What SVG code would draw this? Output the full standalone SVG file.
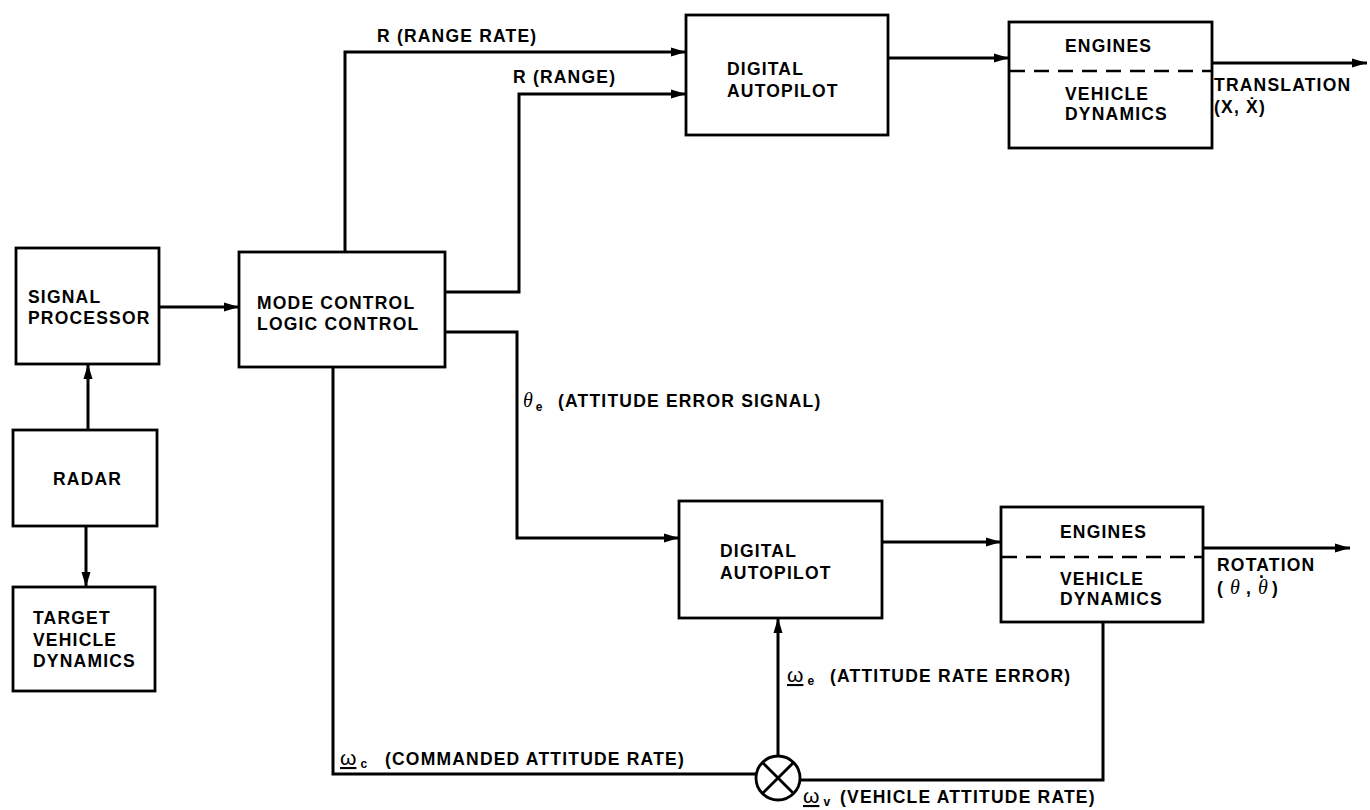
<svg xmlns="http://www.w3.org/2000/svg" width="1370" height="810" viewBox="0 0 1370 810">
<style>
.box{fill:#fff;stroke:#000;stroke-width:2.8}
.dash{stroke:#000;stroke-width:2.5;stroke-dasharray:15 9;fill:none}
.wire{fill:none;stroke:#000;stroke-width:3}
.t{font-family:"Liberation Sans",Arial,sans-serif;font-weight:bold;font-size:17.5px;letter-spacing:1.2px;fill:#000}
.g{font-family:"Liberation Serif","DejaVu Serif",serif;font-style:italic;font-weight:normal;font-size:20px;letter-spacing:0}
.w{font-family:"Liberation Sans",Arial,sans-serif;font-weight:normal;font-size:21px;letter-spacing:0;text-decoration:underline}
.s{font-size:12px;letter-spacing:0}
</style>
<defs>
<marker id="ah" markerUnits="userSpaceOnUse" markerWidth="16" markerHeight="10" refX="15" refY="5" orient="auto">
<path d="M0,0.5 L15,5 L0,9.5 z" fill="#000"/>
</marker>
</defs>

<g id="connectors">
<path class="wire" d="M159,307 H239" marker-end="url(#ah)"/>
<path class="wire" d="M88,430 V364" marker-end="url(#ah)"/>
<path class="wire" d="M86,526 V587" marker-end="url(#ah)"/>
<path class="wire" d="M345,252 V52 H686" marker-end="url(#ah)"/>
<path class="wire" d="M445,292 H519 V94 H686" marker-end="url(#ah)"/>
<path class="wire" d="M888,58 H1009" marker-end="url(#ah)"/>
<path class="wire" d="M1212,63 H1367" marker-end="url(#ah)"/>
<path class="wire" d="M445,332 H517 V538 H679" marker-end="url(#ah)"/>
<path class="wire" d="M882,542 H1001" marker-end="url(#ah)"/>
<path class="wire" d="M1203,548 H1350" marker-end="url(#ah)"/>
<path class="wire" d="M333,367 V774 H756"/>
<path class="wire" d="M1103,622 V780 H800"/>
<path class="wire" d="M778,756 V618" marker-end="url(#ah)"/>
</g>

<g id="signal-processor">
<rect class="box" x="16" y="248" width="143" height="116"/>
<text class="t" x="28" y="303">SIGNAL</text>
<text class="t" x="28" y="324">PROCESSOR</text>
</g>

<g id="radar">
<rect class="box" x="13" y="430" width="144" height="96"/>
<text class="t" x="53" y="485">RADAR</text>
</g>

<g id="target-vehicle-dynamics">
<rect class="box" x="13" y="587" width="142" height="104"/>
<text class="t" x="33" y="624">TARGET</text>
<text class="t" x="33" y="646">VEHICLE</text>
<text class="t" x="33" y="667">DYNAMICS</text>
</g>

<g id="mode-control">
<rect class="box" x="239" y="252" width="206" height="115"/>
<text class="t" x="257" y="309">MODE CONTROL</text>
<text class="t" x="257" y="330">LOGIC CONTROL</text>
</g>

<g id="digital-autopilot-1">
<rect class="box" x="686" y="15" width="202" height="120"/>
<text class="t" x="727" y="75">DIGITAL</text>
<text class="t" x="727" y="97">AUTOPILOT</text>
</g>

<g id="engines-1">
<rect class="box" x="1009" y="22" width="203" height="126"/>
<line class="dash" x1="1010" y1="71" x2="1211" y2="71"/>
<text class="t" x="1065" y="52">ENGINES</text>
<text class="t" x="1065" y="100">VEHICLE</text>
<text class="t" x="1065" y="120">DYNAMICS</text>
</g>

<g id="digital-autopilot-2">
<rect class="box" x="679" y="501" width="203" height="117"/>
<text class="t" x="720" y="557">DIGITAL</text>
<text class="t" x="720" y="579">AUTOPILOT</text>
</g>

<g id="engines-2">
<rect class="box" x="1001" y="507" width="202" height="115"/>
<line class="dash" x1="1002" y1="557" x2="1202" y2="557"/>
<text class="t" x="1060" y="538">ENGINES</text>
<text class="t" x="1060" y="585">VEHICLE</text>
<text class="t" x="1060" y="605">DYNAMICS</text>
</g>

<g id="summing-junction">
<circle cx="778" cy="778" r="22" fill="#fff" stroke="#000" stroke-width="2.8"/>
<line x1="762.4" y1="762.4" x2="793.6" y2="793.6" stroke="#000" stroke-width="2.8"/>
<line x1="793.6" y1="762.4" x2="762.4" y2="793.6" stroke="#000" stroke-width="2.8"/>
</g>

<g id="labels">
<text class="t" x="377" y="42">R (RANGE RATE)</text>
<text class="t" x="513" y="83">R (RANGE)</text>
<text class="t" x="1214" y="91">TRANSLATION</text>
<text class="t" x="1214" y="113">(X, Ẋ)</text>
<text class="t" x="1217" y="571">ROTATION</text>
<text class="t" x="1217" y="594">( <tspan class="g">θ</tspan> , <tspan class="g">θ</tspan><tspan dx="-9" dy="-16">.</tspan><tspan dx="1" dy="16"> )</tspan></text>
<text class="t" x="523" y="407"><tspan class="g">θ</tspan><tspan class="s" dx="3" dy="4">e</tspan></text>
<text class="t" x="558" y="407">(ATTITUDE ERROR SIGNAL)</text>
<text class="t" x="787" y="682"><tspan class="w">ω</tspan><tspan class="s" dx="4" dy="3">e</tspan></text>
<text class="t" x="830" y="682">(ATTITUDE RATE ERROR)</text>
<text class="t" x="340" y="765"><tspan class="w">ω</tspan><tspan class="s" dx="4" dy="3">c</tspan></text>
<text class="t" x="385" y="765">(COMMANDED ATTITUDE RATE)</text>
<text class="t" x="803" y="803"><tspan class="w">ω</tspan><tspan class="s" dx="4" dy="3">v</tspan></text>
<text class="t" x="840" y="803">(VEHICLE ATTITUDE RATE)</text>
</g>
</svg>
